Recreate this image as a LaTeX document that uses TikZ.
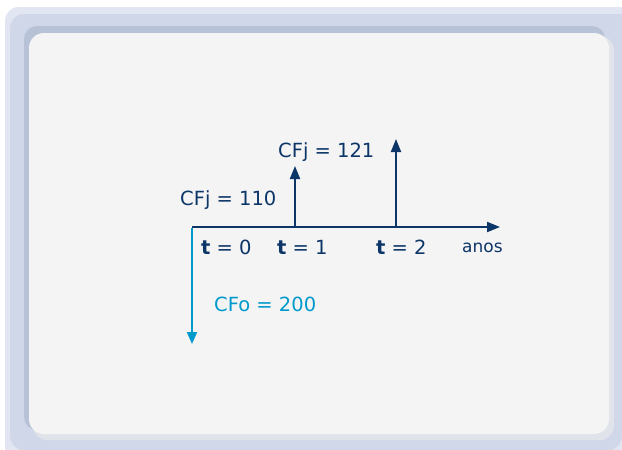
\documentclass[tikz,border=0pt]{standalone}
\usepackage{fontspec}
\setmainfont{DejaVu Sans}
\usetikzlibrary{arrows.meta}
\definecolor{outerA}{HTML}{E2E6F2}
\definecolor{outerB}{HTML}{D0D7E8}
\definecolor{innerdark}{HTML}{B8C2D6}
\definecolor{innershade}{HTML}{E0E3E9}
\definecolor{panel}{HTML}{F4F4F4}
\definecolor{navy}{HTML}{0C3568}
\definecolor{cyanflow}{HTML}{0099CC}
\tikzset{
  lbl/.style={font=\fontsize{19.5}{22}\selectfont, text=navy, inner sep=0pt, anchor=base west},
  flow/.style={line width=2pt, navy, -{Triangle[length=13pt,width=10pt]}},
}
\begin{document}
\begin{tikzpicture}[x=1pt,y=-1pt]
\useasboundingbox (0,0) rectangle (622,450);
\fill[white] (0,0) rectangle (622,450);
% frame
\fill[outerA, rounded corners=14pt] (5,7) rectangle (640,470);
\fill[outerB, rounded corners=14pt] (10,14) rectangle (622,450);
\fill[outerB] (600,14) rectangle (622,30);
\fill[innerdark, rounded corners=13pt] (24,26) rectangle (605,430);
\fill[innershade, rounded corners=14pt] (33,36) rectangle (614,440);
\fill[panel, rounded corners=15pt] (29,33) rectangle (609,434);
% axis points
\coordinate (o) at (192,227);
\coordinate (xend) at (500,227);
\coordinate (p1) at (295,227);
\coordinate (p1top) at (295,166);
\coordinate (p2) at (396,227);
\coordinate (p2top) at (396,139);
\coordinate (down) at (192,344);
\draw[flow] (o) -- (xend);
\draw[flow] (p1) -- (p1top);
\draw[flow] (p2) -- (p2top);
\draw[line width=2pt, cyanflow, -{Triangle[length=12pt,width=10pt]}] ([yshift=-1pt]o) -- (down);
% labels
\node[lbl] (c121) at (278,157) {CFj = 121};
\node[lbl] (c110) at (180,205) {CFj = 110};
\node[lbl] (t0) at (201,254) {\textbf{t} = 0};
\node[lbl] (t1) at (277,254) {\textbf{t} = 1};
\node[lbl] (t2) at (376,254) {\textbf{t} = 2};
\node[lbl, font=\fontsize{17}{20}\selectfont] (anos) at (462,252) {anos};
\node[lbl, text=cyanflow] (cfo) at (214,311) {CFo = 200};
\end{tikzpicture}
\end{document}
